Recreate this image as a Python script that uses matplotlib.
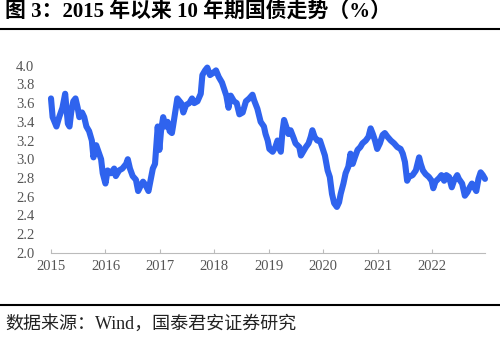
import matplotlib.pyplot as plt

# 10年期国债收益率（%），按年份小数读取
years = [2015.00, 2015.03, 2015.10, 2015.15, 2015.21, 2015.26, 2015.31, 2015.34, 2015.37, 2015.41,
         2015.45, 2015.49, 2015.52, 2015.57, 2015.61, 2015.65, 2015.70, 2015.75, 2015.78, 2015.83,
         2015.86, 2015.89, 2015.92, 2015.95, 2016.00, 2016.04, 2016.10, 2016.16, 2016.19, 2016.25,
         2016.31, 2016.38, 2016.41, 2016.45, 2016.50, 2016.56, 2016.60, 2016.65, 2016.69, 2016.74,
         2016.79, 2016.83, 2016.87, 2016.91, 2016.94, 2016.96, 2016.99, 2017.02, 2017.06, 2017.10,
         2017.14, 2017.18, 2017.22, 2017.24, 2017.28, 2017.32, 2017.39, 2017.43, 2017.48, 2017.54,
         2017.59, 2017.63, 2017.69, 2017.75, 2017.78, 2017.83, 2017.87, 2017.92, 2017.97, 2018.03,
         2018.08, 2018.14, 2018.18, 2018.22, 2018.26, 2018.30, 2018.36, 2018.41, 2018.46, 2018.52,
         2018.58, 2018.64, 2018.70, 2018.73, 2018.79, 2018.85, 2018.91, 2018.94, 2018.98, 2019.01,
         2019.07, 2019.12, 2019.16, 2019.19, 2019.22, 2019.25, 2019.28, 2019.33, 2019.36, 2019.40,
         2019.46, 2019.49, 2019.56, 2019.59, 2019.63, 2019.68, 2019.73, 2019.77, 2019.80, 2019.84,
         2019.89, 2019.94, 2019.98, 2020.03, 2020.08, 2020.12, 2020.16, 2020.20, 2020.25, 2020.29,
         2020.32, 2020.37, 2020.41, 2020.46, 2020.50, 2020.54, 2020.58, 2020.63, 2020.68, 2020.72,
         2020.78, 2020.83, 2020.87, 2020.91, 2020.95, 2020.99, 2021.04, 2021.09, 2021.13, 2021.18,
         2021.24, 2021.30, 2021.36, 2021.42, 2021.46, 2021.50, 2021.54, 2021.57, 2021.64, 2021.70,
         2021.76, 2021.79, 2021.83, 2021.88, 2021.94, 2021.99, 2022.02, 2022.06, 2022.13, 2022.17,
         2022.22, 2022.26, 2022.31, 2022.36, 2022.40, 2022.46, 2022.49, 2022.55, 2022.60, 2022.65,
         2022.69, 2022.73, 2022.77, 2022.81, 2022.85, 2022.89, 2022.93, 2022.97]
yields = [3.65, 3.45, 3.35, 3.45, 3.55, 3.70, 3.38, 3.35, 3.50, 3.62,
          3.65, 3.55, 3.45, 3.50, 3.45, 3.35, 3.30, 3.20, 3.02, 3.15,
          3.10, 3.05, 3.00, 2.85, 2.74, 2.88, 2.85, 2.90, 2.82, 2.88,
          2.90, 2.95, 3.00, 2.90, 2.82, 2.78, 2.66, 2.72, 2.76, 2.72,
          2.66, 2.78, 2.90, 2.95, 3.20, 3.35, 3.10, 3.30, 3.45, 3.35,
          3.40, 3.30, 3.28, 3.35, 3.50, 3.65, 3.60, 3.50, 3.58, 3.60,
          3.65, 3.60, 3.62, 3.70, 3.90, 3.95, 3.98, 3.90, 3.92, 3.95,
          3.88, 3.82, 3.75, 3.68, 3.55, 3.68, 3.62, 3.60, 3.48, 3.50,
          3.62, 3.65, 3.69, 3.63, 3.54, 3.40, 3.35, 3.27, 3.20, 3.11,
          3.08, 3.13, 3.20, 3.13, 3.08, 3.29, 3.42, 3.33, 3.27, 3.31,
          3.22, 3.17, 3.13, 3.04, 3.08, 3.13, 3.17, 3.24, 3.31, 3.24,
          3.20, 3.20, 3.13, 3.04, 2.88, 2.81, 2.63, 2.53, 2.49, 2.54,
          2.63, 2.74, 2.85, 2.92, 3.06, 2.95, 3.02, 3.10, 3.13, 3.17,
          3.20, 3.24, 3.33, 3.27, 3.20, 3.11, 3.17, 3.26, 3.28, 3.24,
          3.20, 3.17, 3.13, 3.11, 3.06, 2.97, 2.77, 2.81, 2.83, 2.88,
          3.02, 2.95, 2.88, 2.84, 2.81, 2.77, 2.69, 2.76, 2.80, 2.83,
          2.77, 2.83, 2.81, 2.70, 2.77, 2.83, 2.79, 2.74, 2.61, 2.65,
          2.70, 2.74, 2.70, 2.66, 2.79, 2.86, 2.83, 2.79]

year_ticks = [2015, 2016, 2017, 2018, 2019, 2020, 2021, 2022]
y_ticks = [2.0, 2.2, 2.4, 2.6, 2.8, 3.0, 3.2, 3.4, 3.6, 3.8, 4.0]

serif = ['Liberation Serif', 'Noto Sans CJK SC']

fig = plt.figure(figsize=(5, 3.37), dpi=100)
ax = fig.add_axes([0.102, 0.25, 0.868, 0.555])

ax.plot(years, yields, color='#2f63ee', linewidth=4.4, solid_joinstyle='round',
        solid_capstyle='round', clip_on=False)

ax.set_xlim(2015, 2022.97)
ax.set_ylim(2.0, 4.0)
ax.set_xticks(year_ticks)
ax.set_xticklabels([str(y) for y in year_ticks], family=serif, fontsize=10.5, color='#555555')
ax.set_yticks(y_ticks)
ax.set_yticklabels([f'{v:.1f}' for v in y_ticks], family=serif, fontsize=10.5, color='#555555')

for s in ['top', 'right', 'left']:
    ax.spines[s].set_visible(False)
ax.spines['bottom'].set_color('#bbbbbb')
ax.spines['bottom'].set_linewidth(0.8)
ax.tick_params(axis='x', direction='in', length=3, color='#bbbbbb', pad=5)
ax.tick_params(axis='y', length=0, pad=12)

# title and footer
fig.text(0.01, 0.961, '图 3：2015 年以来 10 年期国债走势（%）', family=serif,
         fontsize=15, fontweight='bold', va='center', ha='left')
fig.add_artist(plt.Line2D([0, 1], [0.914, 0.914], color='black', linewidth=1.5))
fig.add_artist(plt.Line2D([0, 1], [0.095, 0.095], color='black', linewidth=1.5))
fig.text(0.01, 0.04, '数据来源：Wind，国泰君安证券研究', family=serif,
         fontsize=13, va='center', ha='left', color='#222222')

plt.savefig('out.png', dpi=100)
